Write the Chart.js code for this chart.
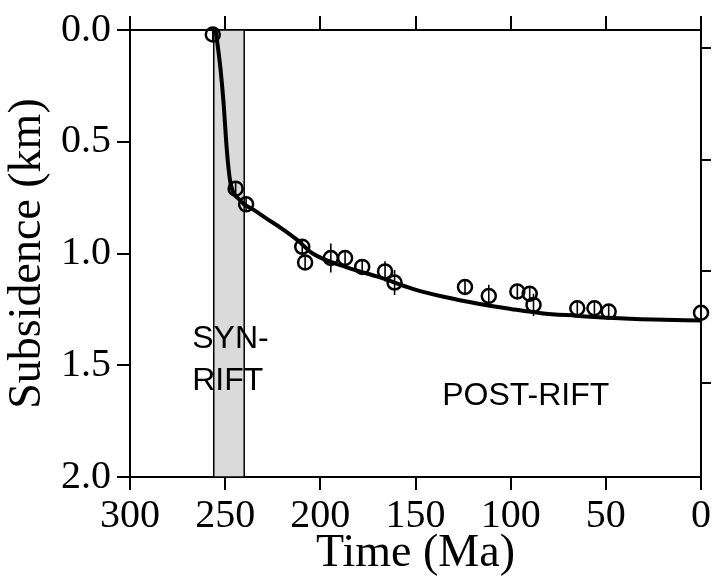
<!DOCTYPE html>
<html>
<head>
<meta charset="utf-8">
<script src="https://cdn.jsdelivr.net/npm/chart.js@4.4.0/dist/chart.umd.min.js"></script>
<style>
  html, body { margin: 0; padding: 0; background: #fff; }
  #wrap { width: 713px; height: 584px; }
</style>
</head>
<body>
<div id="wrap"><canvas id="subsChart" width="713" height="584"></canvas></div>
<script>
// Sample ages (Ma) and subsidence (km)
const sampleAge   = [256.5, 244.5, 239, 209.5, 208, 194.5, 187, 178, 166, 161, 124, 111.5, 96.5, 90, 88, 65, 56, 48.5, 0];
const sampleDepth = [0.02, 0.71, 0.78, 0.97, 1.04, 1.02, 1.02, 1.06, 1.08, 1.13, 1.15, 1.19, 1.17, 1.18, 1.23, 1.245, 1.245, 1.26, 1.265];
// half length of the vertical error bars (km)
const sampleErr   = [0.03, 0.03, 0.03, 0.03, 0.03, 0.065, 0.03, 0.03, 0.045, 0.056, 0.03, 0.05, 0.03, 0.03, 0.05, 0.03, 0.03, 0.03, 0.03];

// Model subsidence curve
const curveAge   = [255, 252.5, 250.9, 249.1, 247.4, 245.5, 243, 240, 235, 228, 221, 212, 204, 186, 169, 151.5, 134, 117, 100, 84, 66, 48.5, 25, 0];
const curveDepth = [0.0, 0.17, 0.32, 0.54, 0.676, 0.73, 0.755, 0.78, 0.805, 0.845, 0.884, 0.94, 1.0, 1.062, 1.106, 1.158, 1.196, 1.225, 1.248, 1.267, 1.278, 1.287, 1.295, 1.30];

// Syn-rift interval (Ma)
const synRiftSpan = [256, 240];

const xTicks = [300, 250, 200, 150, 100, 50, 0];
const yTicks = [0.0, 0.5, 1.0, 1.5, 2.0];
const yRightTicks = [0.0, 0.5, 1.0, 1.5];
const rightTickShift = 0.08; // right-hand ticks sit slightly lower in the original

const serif = "'Liberation Serif', 'Times New Roman', serif";
const sans = "'Liberation Sans', Arial, sans-serif";

// Shaded syn-rift box, behind everything
const bandPlugin = {
    id: 'band',
    beforeDatasetsDraw(chart) {
        const { ctx, scales: { x, y } } = chart;
        const x0 = x.getPixelForValue(synRiftSpan[0]);
        const x1 = x.getPixelForValue(synRiftSpan[1]);
        const y0 = y.getPixelForValue(0);
        const y1 = y.getPixelForValue(2);
        ctx.save();
        ctx.fillStyle = '#dadada';
        ctx.fillRect(x0, y0, x1 - x0, y1 - y0);
        ctx.strokeStyle = '#000';
        ctx.lineWidth = 1.5;
        ctx.strokeRect(x0, y0, x1 - x0, y1 - y0);
        ctx.restore();
    }
};

// Vertical error bars and the two text labels
const extrasPlugin = {
    id: 'extras',
    afterDatasetsDraw(chart) {
        const { ctx, scales: { x, y } } = chart;
        ctx.save();
        ctx.strokeStyle = '#000';
        ctx.lineWidth = 1.6;
        sampleAge.forEach((age, i) => {
            const px = x.getPixelForValue(age);
            ctx.beginPath();
            ctx.moveTo(px, y.getPixelForValue(sampleDepth[i] - sampleErr[i]));
            ctx.lineTo(px, y.getPixelForValue(sampleDepth[i] + sampleErr[i]));
            ctx.stroke();
        });

        ctx.fillStyle = '#000';
        ctx.font = '32px ' + sans;
        ctx.textAlign = 'left';
        ctx.textBaseline = 'alphabetic';
        ctx.fillText('SYN-', x.getPixelForValue(267.3), y.getPixelForValue(1.424));
        ctx.fillText('RIFT', x.getPixelForValue(267.3), y.getPixelForValue(1.611));
        ctx.fillText('POST-RIFT', x.getPixelForValue(136), y.getPixelForValue(1.678));
        ctx.restore();
    }
};

const frameGrid = { drawOnChartArea: false, drawTicks: true, color: '#000', lineWidth: 2 };
const frameBorder = { display: true, color: '#000', width: 2 };

document.addEventListener('DOMContentLoaded', () => {
    const ctx = document.getElementById('subsChart').getContext('2d');
    Chart.defaults.color = '#000';

    new Chart(ctx, {
        data: {
            datasets: [
                {
                    type: 'scatter',
                    label: 'Samples',
                    data: sampleAge.map((a, i) => ({ x: a, y: sampleDepth[i] })),
                    pointRadius: 7,
                    pointBorderWidth: 2.5,
                    pointBorderColor: '#000',
                    pointBackgroundColor: 'rgba(0,0,0,0)',
                    clip: false,
                    order: 0
                },
                {
                    type: 'line',
                    label: 'Model',
                    data: curveAge.map((a, i) => ({ x: a, y: curveDepth[i] })),
                    borderColor: '#000',
                    borderWidth: 4,
                    pointRadius: 0,
                    cubicInterpolationMode: 'monotone',
                    fill: false,
                    order: 1
                }
            ]
        },
        options: {
            responsive: false,
            animation: false,
            layout: { padding: 0 },
            plugins: {
                legend: { display: false },
                tooltip: { enabled: false }
            },
            scales: {
                x: {
                    type: 'linear',
                    position: 'bottom',
                    min: 0, max: 300, reverse: true,
                    afterBuildTicks: s => { s.ticks = xTicks.map(v => ({ value: v })); },
                    afterFit: s => { s.height = 107; },
                    grid: { ...frameGrid, tickLength: 13 },
                    border: frameBorder,
                    ticks: { font: { family: serif, size: 40 }, padding: 2, maxRotation: 0 },
                    title: { display: true, text: 'Time (Ma)', font: { family: serif, size: 46 }, padding: { top: 0, bottom: 2 } }
                },
                x2: {
                    type: 'linear',
                    position: 'top',
                    min: 0, max: 300, reverse: true,
                    afterBuildTicks: s => { s.ticks = xTicks.map(v => ({ value: v })); },
                    afterFit: s => { s.height = 28; },
                    grid: { ...frameGrid, tickLength: 14 },
                    border: frameBorder,
                    ticks: { display: false }
                },
                y: {
                    type: 'linear',
                    position: 'left',
                    min: 0, max: 2, reverse: true,
                    afterBuildTicks: s => { s.ticks = yTicks.map(v => ({ value: v })); },
                    afterFit: s => { s.width = 130; },
                    grid: { ...frameGrid, tickLength: 13 },
                    border: frameBorder,
                    ticks: { font: { family: serif, size: 40 }, padding: 6, callback: v => Number(v).toFixed(1) },
                    title: { display: true, text: 'Subsidence (km)', font: { family: serif, size: 46 }, padding: { top: 0, bottom: 0 } }
                },
                y2: {
                    type: 'linear',
                    position: 'right',
                    min: -rightTickShift, max: 2 - rightTickShift, reverse: true,
                    afterBuildTicks: s => { s.ticks = yRightTicks.map(v => ({ value: v })); },
                    afterFit: s => { s.width = 10; },
                    grid: { ...frameGrid, tickLength: 10 },
                    border: frameBorder,
                    ticks: { display: false }
                }
            }
        },
        plugins: [bandPlugin, extrasPlugin]
    });
});
</script>
</body>
</html>
